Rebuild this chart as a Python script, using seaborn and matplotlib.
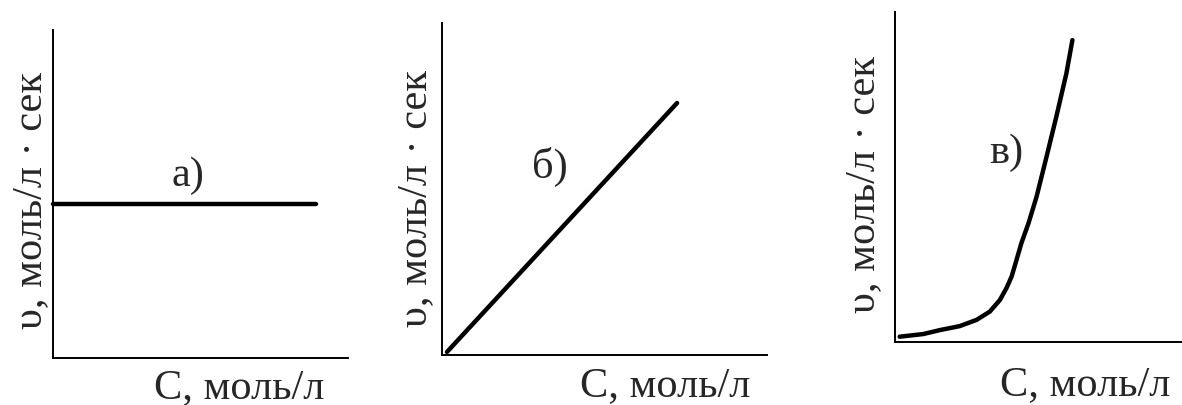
import numpy as np
import seaborn as sns
import matplotlib.pyplot as plt

# данные (условные единицы, оси 0..10)
c_a = [0.0, 8.9]
v_a = [4.7, 4.7]

c_b = [0.15, 7.23]
v_b = [0.09, 7.59]

c_v = [0.17, 0.99, 1.57, 2.26, 2.85, 3.31, 3.66, 3.89, 4.07, 4.24, 4.41, 4.66,
       4.94, 5.29, 5.63, 5.98, 6.19]
v_v = [0.16, 0.24, 0.36, 0.48, 0.67, 0.92, 1.27, 1.63, 1.98, 2.48, 2.99, 3.60,
       4.40, 5.62, 6.83, 8.14, 9.15]

panel_names = ['а)', 'б)', 'в)']
ylabel = 'υ, моль/л · сек'
xlabel = 'С, моль/л'

sns.set_style('white')
plt.rcParams['font.family'] = ['Liberation Serif', 'DejaVu Serif']

fig = plt.figure(figsize=(11.82, 4.05), dpi=100)

# положение осей на рисунке
boxes = [
    [0.0448, 0.116, 0.2496, 0.810],
    [0.374, 0.1235, 0.275, 0.8198],
    [0.757, 0.1556, 0.2428, 0.8148],
]
data = [(c_a, v_a), (c_b, v_b), (c_v, v_v)]
name_pos = [(4.58, 5.55), (3.32, 5.66), (3.87, 5.73)]
ylab_pos = [(-0.075, 0.479), (-0.080, 0.47), (-0.108, 0.476)]
xlab_pos = [(0.63, -0.091), (0.686, -0.093), (0.662, -0.13)]

fs = 30.5
for i in range(3):
    ax = fig.add_axes(boxes[i])
    x, y = data[i]
    sns.lineplot(x=x, y=y, ax=ax, color='black', linewidth=3.2, sort=False)
    ax.lines[0].set_clip_on(False)
    ax.lines[0].set_solid_joinstyle('round')
    ax.set_xlim(0, 10)
    ax.set_ylim(0, 10)
    ax.set_xticks([])
    ax.set_yticks([])
    sns.despine(ax=ax)
    for s in ['left', 'bottom']:
        ax.spines[s].set_linewidth(1.4)
        ax.spines[s].set_color('black')
    ax.text(name_pos[i][0], name_pos[i][1], panel_names[i], fontsize=fs,
            ha='center', va='center')
    ax.text(ylab_pos[i][0], ylab_pos[i][1], ylabel, fontsize=fs, rotation=90,
            ha='center', va='center', transform=ax.transAxes)
    ax.text(xlab_pos[i][0], xlab_pos[i][1], xlabel, fontsize=fs,
            ha='center', va='center', transform=ax.transAxes, clip_on=False)

fig.savefig('out.png', dpi=100)
